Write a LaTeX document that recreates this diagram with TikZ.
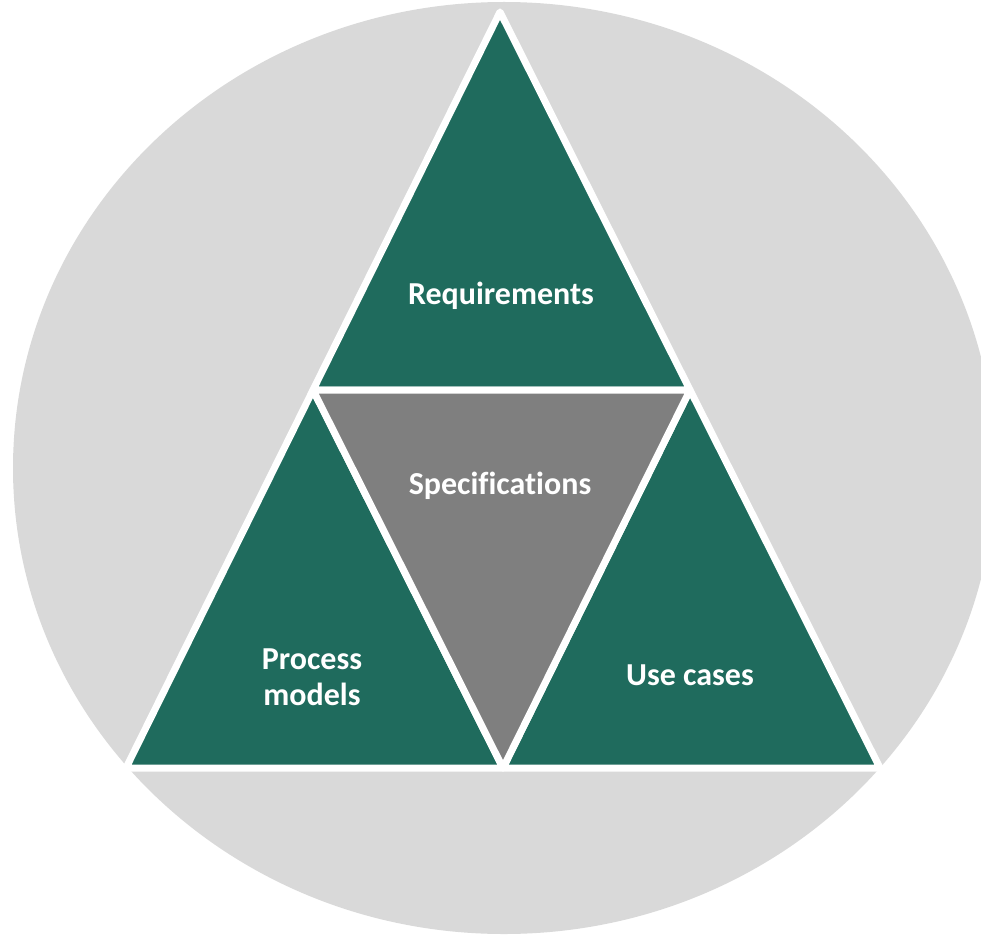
\documentclass[tikz,border=0pt]{standalone}
\usepackage{fontspec}
\setmainfont[Ligatures=NoCommon]{Carlito}
\definecolor{ringgray}{HTML}{D9D9D9}
\definecolor{tealgreen}{HTML}{1F6B5D}
\definecolor{midgray}{HTML}{7F7F7F}
\newcommand{\lbl}[1]{\fontsize{32}{36}\selectfont\bfseries #1}

\begin{document}
\begin{tikzpicture}[x=1pt,y=-1pt,
    piece/.style={draw=white,line width=7pt,line join=round},
    word/.style={text=white,align=center,font=\lbl}]
    \useasboundingbox (0,0) rectangle (981,936);
    \fill[ringgray] (504,468) ellipse [x radius=491,y radius=466];
    \coordinate (A) at (500,12);
    \coordinate (B) at (126,768);
    \coordinate (C) at (880,768);
    \coordinate (AB) at (313,390);
    \coordinate (AC) at (690,390);
    \coordinate (BC) at (503,768);
    \path[piece,fill=tealgreen] (A) -- (AB) -- (AC) -- cycle;
    \path[piece,fill=tealgreen] (AB) -- (B) -- (BC) -- cycle;
    \path[piece,fill=tealgreen] (AC) -- (BC) -- (C) -- cycle;
    \path[piece,fill=midgray] (AB) -- (AC) -- (BC) -- cycle;
    \node[word] (Req) at (501,296) {Requirements};
    \node[word] (Spec) at (500,486) {Specifications};
    \node[word] (PM) at (312,677) {Process\\models};
    \node[word] (UC) at (690,675) {Use cases};
  \end{tikzpicture}
\end{document}
